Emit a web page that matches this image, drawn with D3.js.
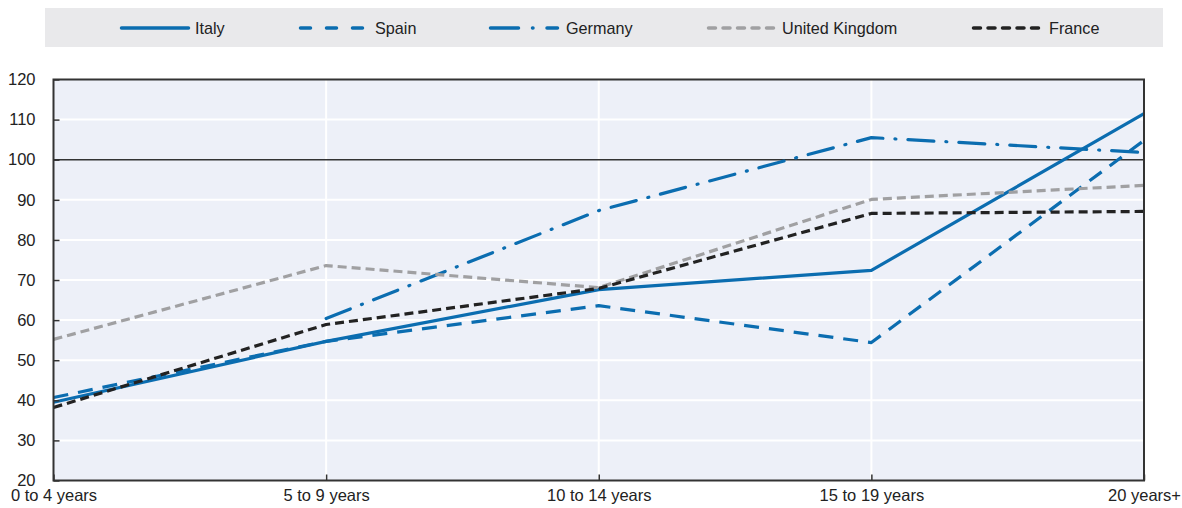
<!DOCTYPE html>
<html><head><meta charset="utf-8">
<script src="https://cdn.jsdelivr.net/npm/d3@7"></script>
<style>
body{margin:0;background:#fff;}
text{font-family:"Liberation Sans","Arial",sans-serif;fill:#222;}
</style></head>
<body>
<svg id="chart" width="1182" height="508"></svg>
<script>
const categories = ["0 to 4 years","5 to 9 years","10 to 14 years","15 to 19 years","20 years+"];
const italy   = [39.5, 54.7, 67.6, 72.4, 111.5];
const spain   = [40.7, 54.7, 63.6, 54.4, 104.8];
const germany = [null, 60.4, 87.3, 105.5, 101.8];
const uk      = [55.2, 73.6, 68.1, 90.1, 93.6];
const france  = [38.2, 58.9, 67.9, 86.6, 87.1];
const yTicks  = [20,30,40,50,60,70,80,90,100,110,120];

const seriesNames = ["Italy","Spain","Germany","United Kingdom","France"];
const seriesValues = [italy, spain, germany, uk, france];
const blue = "#0b6db0";
const styles = [
  {color: blue, dash: null, cap: "butt", ldash: null},
  {color: blue, dash: "15,10", cap: "butt", ldash: "10,16"},
  {color: blue, dash: "26,12,1,12", cap: "round", ldash: "28,14,0.5,14"},
  {color: "#a0a0a2", dash: "9,5", cap: "butt", ldash: "7,7.5"},
  {color: "#222222", dash: "9,5", cap: "butt", ldash: "7,7.5"}
];

const svg = d3.select("#chart");
const L = 53.5, R = 1144, T = 79.5, B = 480.5;
const x = d3.scalePoint().domain(categories).range([L, R]).padding(0);
const y = d3.scaleLinear().domain([20,120]).range([B, T]);

// legend box
svg.append("rect").attr("x",45).attr("y",8).attr("width",1118).attr("height",39).attr("fill","#e9e9eb");
const legendPos = [[120,195],[299,375],[489,566],[707,782],[972,1049]];
seriesNames.forEach((n,i)=>{
  const st = styles[i];
  const [lx,tx] = legendPos[i];
  const g = svg.append("g");
  const ln = g.append("line").attr("x1",lx+1.5).attr("x2",lx+68.5).attr("y1",28).attr("y2",28)
    .attr("stroke",st.color).attr("stroke-width",3.5).attr("stroke-linecap","round");
  if(st.ldash) ln.attr("stroke-dasharray",st.ldash);
  g.append("text").attr("x",tx).attr("y",34).attr("font-size",16.2).text(n);
});

// plot background
svg.append("rect").attr("x",L).attr("y",T).attr("width",R-L).attr("height",B-T).attr("fill","#edf0f8");
// horizontal grid
svg.append("g").selectAll("line").data(yTicks.filter(d=>d>20&&d<120&&d!==100)).join("line")
  .attr("x1",L).attr("x2",R).attr("y1",d=>y(d)).attr("y2",d=>y(d)).attr("stroke","#fff").attr("stroke-width",2);
// vertical grid
svg.append("g").selectAll("line").data(categories.slice(1,-1)).join("line")
  .attr("x1",d=>x(d)).attr("x2",d=>x(d)).attr("y1",T).attr("y2",B).attr("stroke","#fff").attr("stroke-width",2);
// 100 line
svg.append("line").attr("x1",L).attr("x2",R).attr("y1",y(100)).attr("y2",y(100)).attr("stroke","#333").attr("stroke-width",1.5);

// lines
const line = d3.line().defined(d=>d[1]!=null).x(d=>x(d[0])).y(d=>y(d[1]));
seriesValues.forEach((vals,i)=>{
  const st = styles[i];
  const p = svg.append("path").datum(categories.map((c,j)=>[c,vals[j]]))
    .attr("d",line).attr("fill","none").attr("stroke",st.color).attr("stroke-width",3.2)
    .attr("stroke-linecap",st.cap).attr("stroke-linejoin","round");
  if(st.dash) p.attr("stroke-dasharray",st.dash);
});

// frame
svg.append("rect").attr("x",L).attr("y",T).attr("width",R-L).attr("height",B-T).attr("fill","none").attr("stroke","#333").attr("stroke-width",2);

// y axis
const yAxis = d3.axisLeft(y).tickValues(yTicks).tickSize(-6).tickPadding(18);
const ya = svg.append("g").attr("transform",`translate(${L},0)`).call(yAxis);
ya.attr("font-family",null).attr("font-size",null);
ya.select(".domain").remove();
ya.selectAll("line").attr("stroke","#333").attr("stroke-width",1.5);
ya.selectAll("text").attr("font-size",16.5).attr("fill","#222");

// x axis
const xAxis = d3.axisBottom(x).tickSize(-6).tickPadding(10);
const xa = svg.append("g").attr("transform",`translate(0,${B})`).call(xAxis);
xa.attr("font-family",null).attr("font-size",null);
xa.select(".domain").remove();
xa.selectAll("line").attr("stroke","#333").attr("stroke-width",1.5);
xa.selectAll("text").attr("font-size",16.5).attr("fill","#222").attr("y",9).attr("dy","0.71em");
</script>
</body></html>
